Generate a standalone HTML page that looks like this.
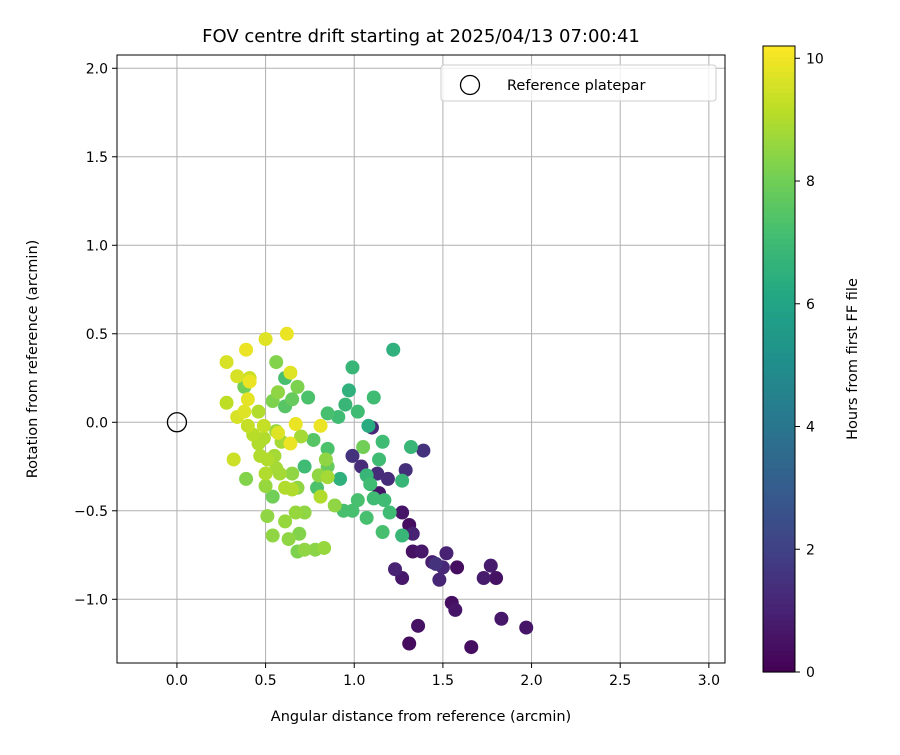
<!DOCTYPE html>
<html><head><meta charset="utf-8"><style>
body{margin:0;background:#fff;font-family:"Liberation Sans","DejaVu Sans",sans-serif}
svg text{font-family:"DejaVu Sans","Liberation Sans",sans-serif;fill:#000}
</style></head><body>
<svg id="chart" width="900" height="750" xmlns="http://www.w3.org/2000/svg">
<rect width="900" height="750" fill="#fff"/>
<text x="421" y="42" text-anchor="middle" font-size="18">FOV centre drift starting at 2025/04/13 07:00:41</text>
<g id="grid"></g>
<g id="ticks"></g>
<g id="points"></g>
<rect x="117" y="55" width="608" height="608" fill="none" stroke="#000" stroke-width="1"/>
<text x="421" y="721" text-anchor="middle" font-size="14.5">Angular distance from reference (arcmin)</text>
<text transform="translate(37,359) rotate(-90)" text-anchor="middle" font-size="14.5">Rotation from reference (arcmin)</text>
<g>
<rect x="441" y="65" width="275" height="36" rx="3" fill="#fff" fill-opacity="0.8" stroke="#ccc"/>
<circle cx="470" cy="85" r="9.5" fill="none" stroke="#000" stroke-width="1.3"/>
<text x="507" y="90" font-size="14.5">Reference platepar</text>
</g>
<g id="cbar"></g>
<text transform="translate(857,359) rotate(-90)" text-anchor="middle" font-size="14.5">Hours from first FF file</text>
</svg>
<script>
const xs=[1.10,1.39,0.99,1.04,1.13,1.29,1.19,1.14,1.27,1.31,1.33,1.33,1.38,1.52,1.44,1.46,1.50,1.58,1.23,1.27,1.48,1.77,1.73,1.80,1.55,1.57,1.83,1.97,1.36,1.31,1.66,
1.22,0.99,0.97,1.11,0.95,1.02,0.85,0.91,1.08,1.16,1.32,1.05,0.85,1.14,1.07,1.09,1.27,0.92,1.17,1.02,1.11,0.94,0.99,1.07,1.20,1.16,1.27,
0.62,0.50,0.39,0.28,0.56,0.64,0.34,0.41,0.41,0.61,0.38,0.68,0.57,0.28,0.40,0.54,0.65,0.74,0.61,0.46,0.38,0.34,0.49,0.67,0.56,0.81,0.40,0.43,0.57,0.70,0.49,0.77,0.46,0.64,0.59,0.32,0.47,0.55,0.51,0.72,0.84,0.85,0.56,0.58,0.50,0.65,0.80,0.85,0.39,0.50,0.68,0.61,0.65,0.79,0.54,0.81,0.89,0.51,0.61,0.67,0.72,0.54,0.63,0.69,0.68,0.72,0.78,0.83];
const ys=[-0.03,-0.16,-0.19,-0.25,-0.29,-0.27,-0.32,-0.40,-0.51,-0.58,-0.63,-0.73,-0.73,-0.74,-0.79,-0.80,-0.82,-0.82,-0.83,-0.88,-0.89,-0.81,-0.88,-0.88,-1.02,-1.06,-1.11,-1.16,-1.15,-1.25,-1.27,
0.41,0.31,0.18,0.14,0.10,0.06,0.05,0.03,-0.02,-0.11,-0.14,-0.14,-0.15,-0.21,-0.30,-0.35,-0.33,-0.32,-0.44,-0.44,-0.43,-0.50,-0.50,-0.54,-0.51,-0.62,-0.64,
0.50,0.47,0.41,0.34,0.34,0.28,0.26,0.25,0.23,0.25,0.20,0.20,0.17,0.11,0.13,0.12,0.13,0.14,0.09,0.06,0.06,0.03,-0.02,-0.01,-0.05,-0.02,-0.02,-0.07,-0.06,-0.08,-0.09,-0.10,-0.12,-0.12,-0.11,-0.21,-0.19,-0.19,-0.21,-0.25,-0.21,-0.25,-0.26,-0.29,-0.29,-0.29,-0.30,-0.31,-0.32,-0.36,-0.37,-0.37,-0.38,-0.37,-0.42,-0.42,-0.47,-0.53,-0.56,-0.51,-0.51,-0.64,-0.66,-0.63,-0.73,-0.72,-0.72,-0.71];
const hours=[1.2,1.5,1.5,1.3,1.3,1.4,1.3,0.6,0.6,0.4,1.0,0.5,0.7,1.0,0.9,1.5,1.2,0.4,1.0,0.7,1.1,0.8,0.8,0.5,0.4,0.6,0.7,0.6,0.5,0.3,0.4,
6.5,6.8,6.5,7.0,6.8,7.0,7.2,7.0,6.3,7.0,6.8,8.0,7.3,7.0,6.8,7.0,6.8,6.5,7.0,7.2,7.0,7.2,7.2,7.2,7.0,7.2,6.8,
9.9,9.7,9.9,9.6,8.3,9.7,9.6,9.4,9.9,7.2,8.0,8.2,8.5,9.2,9.8,8.2,7.8,7.3,7.5,9.0,9.7,9.6,9.3,9.9,8.6,9.9,9.3,9.1,9.7,8.8,9.0,7.5,9.0,9.9,8.8,9.4,9.0,8.8,9.0,7.0,8.5,7.8,8.8,8.8,9.0,8.5,8.5,8.8,8.3,8.6,8.5,9.0,9.0,7.3,8.0,9.0,8.5,8.5,8.6,8.6,8.5,8.5,8.5,8.3,8.2,8.5,8.4,8.6];
const xTicks=[0.0,0.5,1.0,1.5,2.0,2.5,3.0];
const yTicks=[-1.0,-0.5,0.0,0.5,1.0,1.5,2.0];
const cTicks=[0,2,4,6,8,10];
const NS='http://www.w3.org/2000/svg';
const X0=-0.338,X1=3.091,Y0=-1.36,Y1=2.075,L=117,R=725,T=55,B=663;
const sx=v=>L+(v-X0)/(X1-X0)*(R-L);
const sy=v=>B-(v-Y0)/(Y1-Y0)*(B-T);
const HMAX=10.2,CB_T=46,CB_B=672;
const sc=v=>CB_B-v/HMAX*(CB_B-CB_T);
const vir=[[68,1,84],[72,35,116],[64,67,135],[52,94,141],[41,120,142],[32,144,140],[34,167,132],[68,190,112],[121,209,81],[189,222,38],[253,231,37]];
function cmap(t){t=Math.max(0,Math.min(1,t))*10;const i=Math.min(9,Math.floor(t)),f=t-i,a=vir[i],b=vir[i+1];
return 'rgb('+a.map((c,k)=>Math.round(c+(b[k]-c)*f)).join(',')+')';}
function mk(tag,attrs,parent){const e=document.createElementNS(NS,tag);for(const k in attrs)e.setAttribute(k,attrs[k]);parent.appendChild(e);return e;}
const grid=document.getElementById('grid'),ticks=document.getElementById('ticks');
const fmt=v=>(v<0?'\u2212':'')+Math.abs(v).toFixed(1);
xTicks.forEach(v=>{const x=sx(v);
const g=mk('line',{x1:x,x2:x,y1:T,y2:B,stroke:'#b0b0b0','stroke-width':1},grid);


mk('line',{x1:x,x2:x,y1:B,y2:B+5,stroke:'#000'},ticks);
const t=mk('text',{x:x,y:B+22,'text-anchor':'middle','font-size':14},ticks);t.textContent=fmt(v);

});
yTicks.forEach(v=>{const y=sy(v);
const g=mk('line',{x1:L,x2:R,y1:y,y2:y,stroke:'#b0b0b0','stroke-width':1},grid);


mk('line',{x1:L-5,x2:L,y1:y,y2:y,stroke:'#000'},ticks);
const t=mk('text',{x:L-9,y:y+5,'text-anchor':'end','font-size':14},ticks);t.textContent=fmt(v);

});
const pts=document.getElementById('points');
const idx=hours.map((h,i)=>i).sort((a,b)=>hours[a]-hours[b]);
idx.forEach(i=>{const c=mk('circle',{cx:sx(xs[i]),cy:sy(ys[i]),r:7,fill:cmap(hours[i]/HMAX)},pts);

});
const ref=mk('circle',{cx:sx(0),cy:sy(0),r:9.5,fill:'none',stroke:'#000','stroke-width':1.3},pts);


const cb=document.getElementById('cbar');
const N=120;for(let k=0;k<N;k++){const y0=CB_T+k*(CB_B-CB_T)/N;
mk('rect',{x:763,y:y0,width:32,height:(CB_B-CB_T)/N+0.6,fill:cmap(1-(k+0.5)/N)},cb);}
const fr=mk('rect',{x:763,y:CB_T,width:32,height:CB_B-CB_T,fill:'none',stroke:'#000'},cb);


cTicks.forEach(v=>{const y=sc(v);mk('line',{x1:795,x2:800,y1:y,y2:y,stroke:'#000'},cb);
const t=mk('text',{x:806,y:y+5,'font-size':14},cb);t.textContent=v;

});
</script>
</body></html>
